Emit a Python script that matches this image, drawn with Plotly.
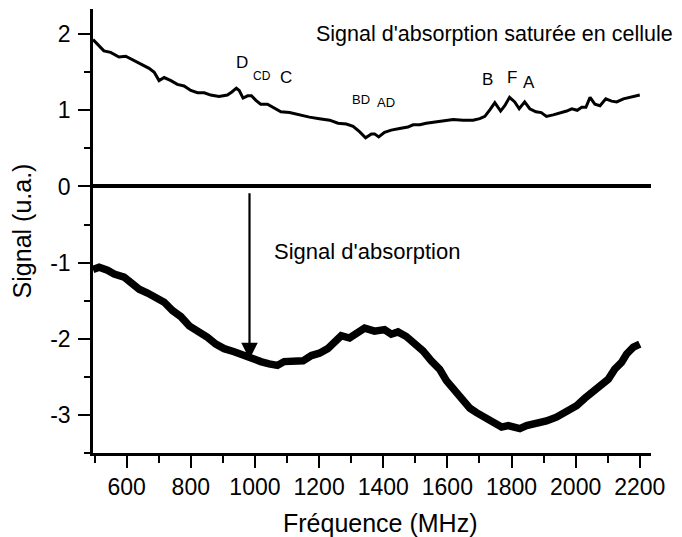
import plotly.graph_objects as go

# saturated absorption signal in cell (upper trace)
freq_sat = [495, 508, 529, 550, 576, 597, 623, 644, 670, 686, 701, 717, 738, 758,
            779, 800, 821, 842, 862, 888, 914, 928, 942, 951, 963, 977, 989, 1003,
            1018, 1039, 1060, 1081, 1108, 1139, 1170, 1201, 1233, 1259, 1285, 1306,
            1326, 1345, 1363, 1373, 1386, 1404, 1425, 1451, 1477, 1493, 1514, 1534,
            1566, 1597, 1618, 1649, 1680, 1701, 1717, 1733, 1748, 1766, 1779, 1794,
            1810, 1824, 1841, 1857, 1876, 1893, 1909, 1930, 1951, 1972, 1988, 2005,
            2019, 2032, 2045, 2060, 2076, 2094, 2112, 2128, 2149, 2169, 2200]
sig_sat = [1.93, 1.87, 1.78, 1.76, 1.70, 1.71, 1.65, 1.60, 1.55, 1.50, 1.39, 1.43, 1.39, 1.34,
           1.32, 1.26, 1.23, 1.23, 1.20, 1.18, 1.20, 1.24, 1.29, 1.26, 1.16, 1.19, 1.19, 1.13,
           1.08, 1.08, 1.03, 0.98, 0.97, 0.94, 0.91, 0.89, 0.87, 0.83, 0.82, 0.79,
           0.72, 0.64, 0.69, 0.69, 0.65, 0.71, 0.74, 0.76, 0.78, 0.81, 0.81, 0.83,
           0.85, 0.86, 0.88, 0.87, 0.87, 0.89, 0.92, 1.01, 1.10, 0.99, 1.06, 1.17,
           1.11, 1.02, 1.11, 1.02, 0.98, 0.97, 0.92, 0.94, 0.96, 0.99, 1.02, 1.00,
           1.04, 1.04, 1.17, 1.08, 1.06, 1.15, 1.12, 1.11, 1.15, 1.17, 1.20]

# absorption signal (lower trace)
freq_abs = [495, 514, 540, 561, 592, 612, 639, 665, 696, 717, 743, 769, 795, 821, 852,
            878, 904, 935, 966, 992, 1018, 1044, 1070, 1091, 1110, 1129, 1150, 1176,
            1201, 1227, 1248, 1269, 1295, 1316, 1342, 1373, 1404, 1425, 1446, 1472,
            1498, 1524, 1550, 1576, 1597, 1618, 1644, 1670, 1691, 1716, 1743, 1769,
            1790, 1810, 1826, 1847, 1878, 1909, 1940, 1972, 2003, 2029, 2055, 2081,
            2102, 2122, 2143, 2159, 2180, 2200]
sig_abs = [-1.09, -1.06, -1.10, -1.15, -1.19, -1.26, -1.35, -1.40, -1.46, -1.52, -1.63, -1.71,
           -1.83, -1.89, -1.98, -2.07, -2.13, -2.17, -2.22, -2.28, -2.30, -2.33, -2.35, -2.30,
           -2.29, -2.29, -2.29, -2.22, -2.19, -2.13, -2.04, -1.96, -1.99, -1.92, -1.86, -1.90,
           -1.88, -1.94, -1.91, -1.97, -2.05, -2.16, -2.29, -2.40, -2.55, -2.66, -2.81, -2.91,
           -2.97, -3.03, -3.08, -3.16, -3.14, -3.15, -3.18, -3.14, -3.12, -3.08, -3.03, -2.96,
           -2.88, -2.78, -2.70, -2.59, -2.53, -2.40, -2.31, -2.20, -2.11, -2.07]

y_tickvals = [-3, -2, -1, 0, 1, 2]
y_ticktext = ["-3", "-2", "-1", "0", "1", "2"]

# transition labels (text, freq, signal, font size)
labels = [("D", 961, 1.63, 17), ("CD", 1023, 1.45, 12), ("C", 1098, 1.43, 17),
          ("BD", 1332, 1.14, 13), ("AD", 1408, 1.10, 13),
          ("B", 1724, 1.41, 17), ("F", 1800, 1.43, 17), ("A", 1854, 1.37, 17)]

FONT = "Liberation Sans, Arial, sans-serif"

fig = go.Figure()
fig.add_trace(go.Scatter(x=freq_sat, y=sig_sat, mode="lines",
                         line=dict(color="black", width=3)))
fig.add_trace(go.Scatter(x=freq_abs, y=sig_abs, mode="lines",
                         line=dict(color="black", width=7.5)))

for txt, fx, fy, fs in labels:
    fig.add_annotation(x=fx, y=fy, text=txt, showarrow=False,
                       font=dict(size=fs, color="black", family=FONT))

fig.add_annotation(x=1183, y=2.0, text="Signal d'absorption saturée en cellule",
                   xanchor="left", showarrow=False,
                   font=dict(size=21.5, color="black", family=FONT))
fig.add_annotation(x=1052, y=-0.86, text="Signal d'absorption",
                   xanchor="left", showarrow=False,
                   font=dict(size=22, color="black", family=FONT))

# arrow from zero line down to the absorption curve
fig.add_annotation(x=983, y=-2.27, ax=983, ay=-0.07, axref="x", ayref="y",
                   text="", showarrow=True, arrowhead=2, arrowsize=1.5,
                   arrowwidth=2.2, arrowcolor="black")

# x axis title, placed as in the original (slightly right of centre)
fig.add_annotation(x=0.516, y=-0.158, xref="paper", yref="paper",
                   xanchor="center", yanchor="middle",
                   text="Fréquence (MHz)", showarrow=False,
                   font=dict(size=25, color="black", family=FONT))

# page body adds 8px around the figure, so the figure is 8px smaller than the window
fig.update_layout(
    width=674, height=529,
    margin=dict(l=85, r=31, t=1, b=84),
    paper_bgcolor="white", plot_bgcolor="white",
    showlegend=False,
    font=dict(family=FONT, size=23, color="black"),
    xaxis=dict(range=[495, 2235], tick0=600, dtick=200,
               showgrid=False, zeroline=False,
               showline=True, linecolor="black", linewidth=2.5,
               ticks="outside", ticklen=12, tickwidth=2, tickcolor="black",
               minor=dict(ticks="outside", ticklen=7, tickwidth=2, tickcolor="black",
                          tick0=500, dtick=100)),
    yaxis=dict(range=[-3.5, 2.33], tickmode="array",
               tickvals=y_tickvals, ticktext=y_ticktext,
               showgrid=False, zeroline=True, zerolinecolor="black", zerolinewidth=3.5,
               showline=True, linecolor="black", linewidth=2.5,
               ticks="outside", ticklen=12, tickwidth=2, tickcolor="black",
               ticklabelstandoff=3,
               minor=dict(ticks="outside", ticklen=6, tickwidth=2, tickcolor="black",
                          tickmode="linear", tick0=0, dtick=0.5),
               title=dict(text="Signal (u.a.)", font=dict(size=25), standoff=12)),
)

fig.write_html("out.html")
